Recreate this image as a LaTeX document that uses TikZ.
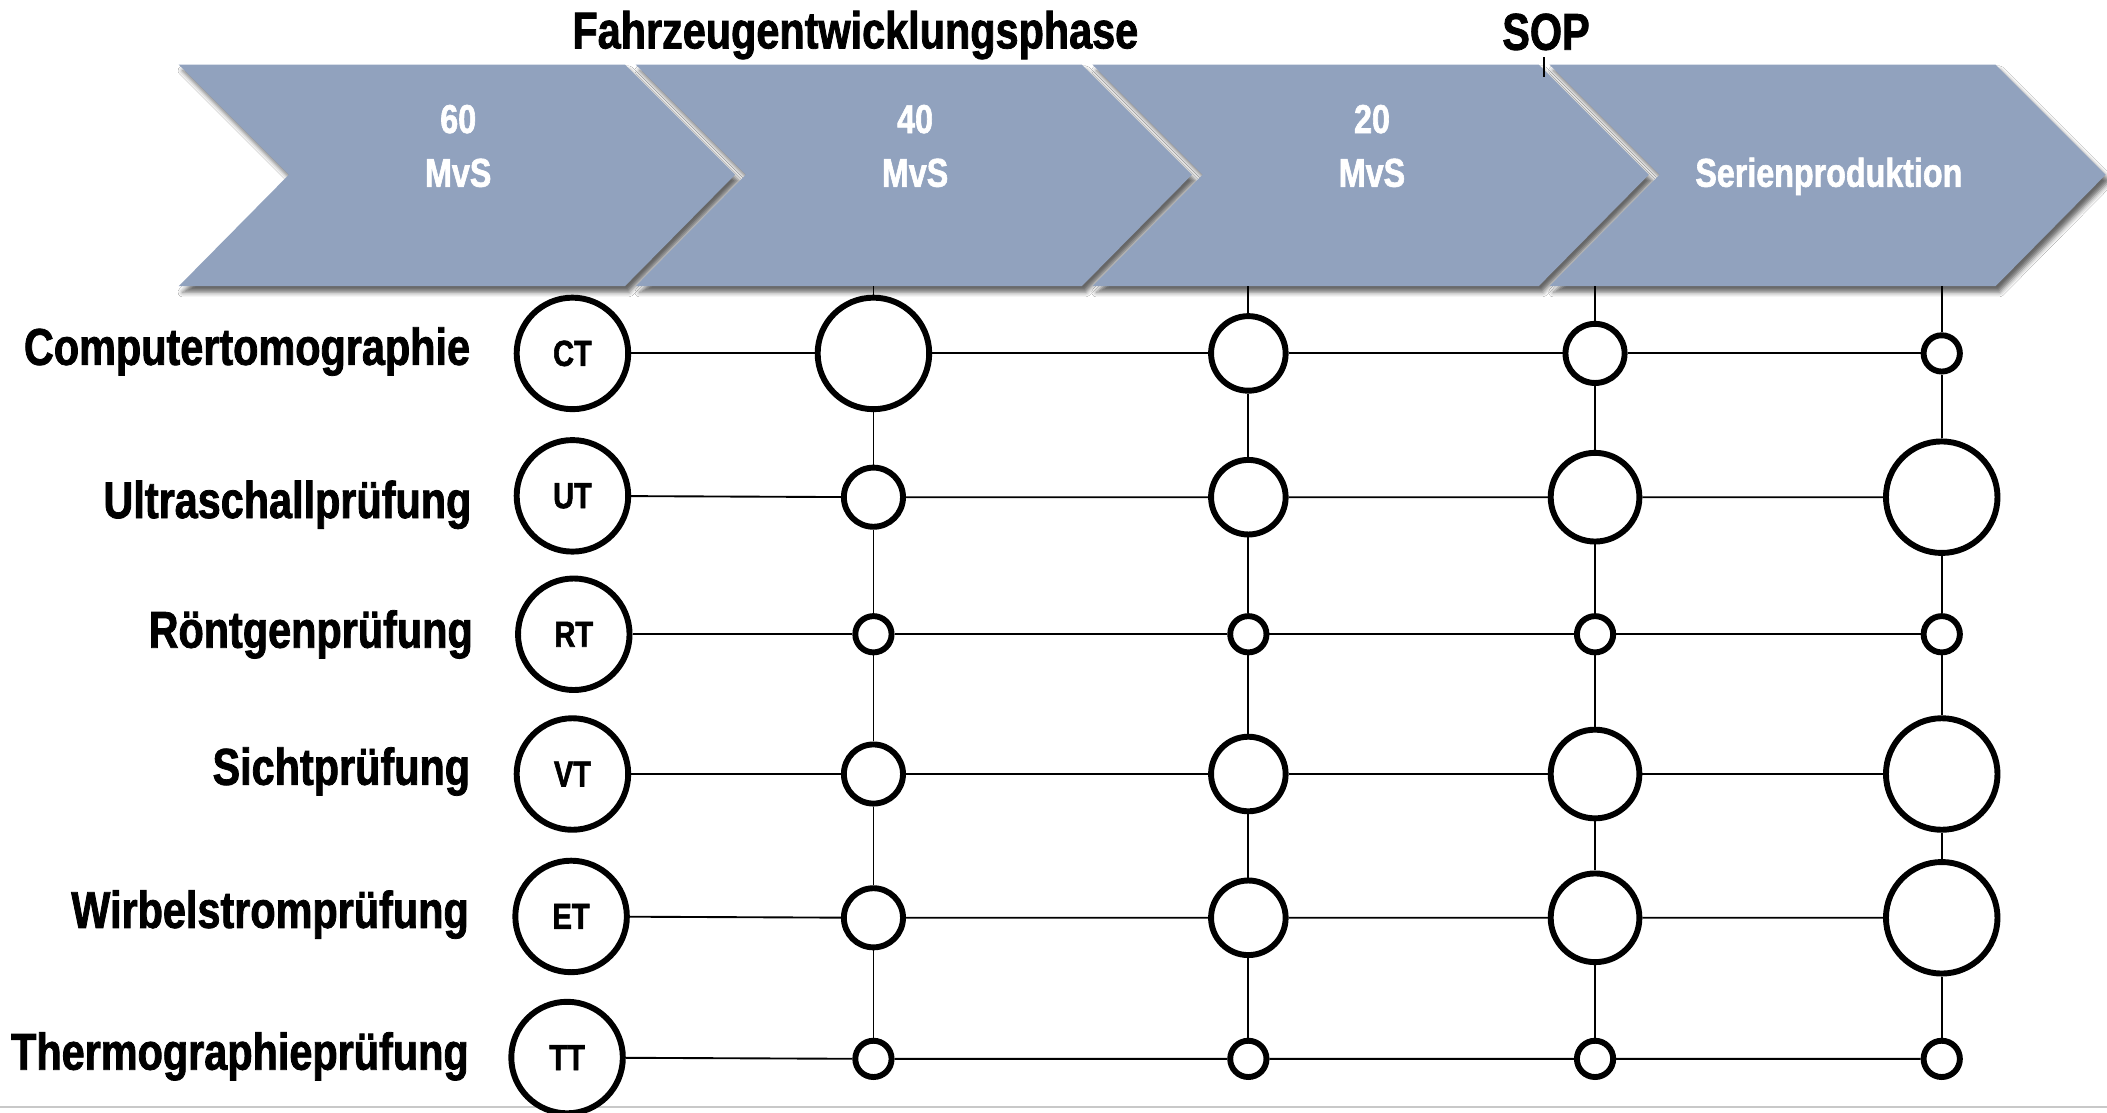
\documentclass[tikz,border=0pt]{standalone}
\usepackage{fontspec}
\setmainfont{Liberation Sans}[FakeStretch=0.8, BoldFeatures={FakeStretch=0.8,FakeBold=1.5}]
\usetikzlibrary{shadows.blur}
\definecolor{chev}{RGB}{145,162,190}
\definecolor{bottomgray}{RGB}{200,200,200}
\begin{document}
\begin{tikzpicture}[x=1pt,y=-1pt,
  chevron/.style={fill=chev, blur shadow={shadow xshift=3pt, shadow yshift=-4.5pt, shadow blur radius=3.5pt, shadow opacity=60}},
  chevtext/.style={text=white, font=\bfseries\fontsize{30}{34}\selectfont, inner sep=0pt, anchor=base},
  headtext/.style={font=\bfseries\fontsize{38.5}{42}\selectfont, inner sep=0pt, anchor=base},
  methodlabel/.style={font=\bfseries\fontsize{38.5}{42}\selectfont, inner sep=0pt, anchor=base east},
  ring/.style={circle, draw, line width=4.4pt, fill=white, inner sep=0pt},
  abbr/.style={ring, minimum size=83pt, font=\bfseries\fontsize{27}{30}\selectfont},
  szXL/.style={ring, minimum size=83pt},
  szL/.style={ring, minimum size=66pt},
  szM/.style={ring, minimum size=55.5pt},
  szS/.style={ring, minimum size=44pt},
  szXS/.style={ring, minimum size=27pt},
  conn/.style={line width=1.4pt}]
\useasboundingbox (0,0) rectangle (1568,828);
\fill[white] (0,0) rectangle (1568,828);

% bottom rule
\coordinate (gl) at (0,823.5);
\coordinate (gr) at (1568,823.5);
\draw[bottomgray, line width=1.5pt] (gl) -- (gr);

% chevrons
\foreach \x in {133,473,813,1153} {
  \path[chevron] (\x,48) -- ++(332,0) -- ++(82,82) -- ++(-82,83) -- ++(-332,0) -- ++(82,-83) -- cycle;
}
\node[chevtext] (p1a) at (341,99) {60};
\node[chevtext] (p1b) at (341,139) {MvS};
\node[chevtext] (p2a) at (681,99) {40};
\node[chevtext] (p2b) at (681,139) {MvS};
\node[chevtext] (p3a) at (1021,99) {20};
\node[chevtext] (p3b) at (1021,139) {MvS};
\node[chevtext] (p4) at (1361,139) {Serienproduktion};

% headings
\node[headtext] (title) at (636.5,36) {Fahrzeugentwicklungsphase};
\node[headtext] (sop) at (1150.5,37) {SOP};
\coordinate (sopend) at (1149,57);
\draw[conn] ([yshift=-5pt]sop.south -| sopend) -- (sopend);

% method labels
\node[methodlabel] (l1) at (350,271.5) {Computertomographie};
\node[methodlabel] (l2) at (351,385.5) {Ultraschallprüfung};
\node[methodlabel] (l3) at (352,482) {Röntgenprüfung};
\node[methodlabel] (l4) at (350,584) {Sichtprüfung};
\node[methodlabel] (l5) at (349,690.5) {Wirbelstromprüfung};
\node[methodlabel] (l6) at (349,796) {Thermographieprüfung};

% abbreviation circles
\node[abbr] (CT) at (426,263) {CT};
\node[abbr] (UT) at (426,369) {UT};
\node[abbr] (RT) at (427,472) {RT};
\node[abbr] (VT) at (426,576) {VT};
\node[abbr] (ET) at (425,682) {ET};
\node[abbr] (TT) at (422,787) {TT};

% column tops
\coordinate (t1) at (650,213);
\coordinate (t2) at (929,213);
\coordinate (t3) at (1187,213);
\coordinate (t4) at (1445,213);

% grid circles
\node[szXL] (n11) at (650,263) {};
\node[szM]  (n12) at (929,263) {};
\node[szS]  (n13) at (1187,263) {};
\node[szXS] (n14) at (1445,263) {};

\node[szS]  (n21) at (650,370) {};
\node[szM]  (n22) at (929,370) {};
\node[szL]  (n23) at (1187,370) {};
\node[szXL] (n24) at (1445,370) {};

\node[szXS] (n31) at (650,472) {};
\node[szXS] (n32) at (929,472) {};
\node[szXS] (n33) at (1187,472) {};
\node[szXS] (n34) at (1445,472) {};

\node[szS]  (n41) at (650,576) {};
\node[szM]  (n42) at (929,576) {};
\node[szL]  (n43) at (1187,576) {};
\node[szXL] (n44) at (1445,576) {};

\node[szS]  (n51) at (650,683) {};
\node[szM]  (n52) at (929,683) {};
\node[szL]  (n53) at (1187,683) {};
\node[szXL] (n54) at (1445,683) {};

\node[szXS] (n61) at (650,788) {};
\node[szXS] (n62) at (929,788) {};
\node[szXS] (n63) at (1187,788) {};
\node[szXS] (n64) at (1445,788) {};

% row connectors
\draw[conn] (CT) -- (n11) -- (n12) -- (n13) -- (n14);
\draw[conn] (UT) -- (n21) -- (n22) -- (n23) -- (n24);
\draw[conn] (RT) -- (n31) -- (n32) -- (n33) -- (n34);
\draw[conn] (VT) -- (n41) -- (n42) -- (n43) -- (n44);
\draw[conn] (ET) -- (n51) -- (n52) -- (n53) -- (n54);
\draw[conn] (TT) -- (n61) -- (n62) -- (n63) -- (n64);

% column connectors
\draw[conn] (t1) -- (n11) -- (n21) -- (n31) -- (n41) -- (n51) -- (n61);
\draw[conn] (t2) -- (n12) -- (n22) -- (n32) -- (n42) -- (n52) -- (n62);
\draw[conn] (t3) -- (n13) -- (n23) -- (n33) -- (n43) -- (n53) -- (n63);
\draw[conn] (t4) -- (n14) -- (n24) -- (n34) -- (n44) -- (n54) -- (n64);
\end{tikzpicture}
\end{document}
